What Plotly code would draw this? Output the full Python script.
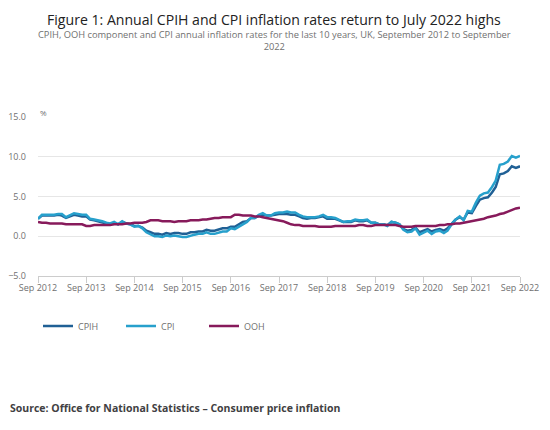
import pandas as pd
import plotly.graph_objects as go

# Monthly, Sep 2012 to Sep 2022
dates = pd.date_range("2012-09-01", "2022-09-01", freq="MS")

cpih = [2.2, 2.6, 2.6, 2.6,
        2.6, 2.7, 2.6, 2.3, 2.5, 2.7, 2.6, 2.5, 2.5, 2.1, 2.0, 1.9,
        1.8, 1.6, 1.5, 1.7, 1.5, 1.8, 1.6, 1.5, 1.3, 1.3, 1.1, 0.7,
        0.5, 0.3, 0.3, 0.2, 0.4, 0.3, 0.4, 0.4, 0.3, 0.3, 0.5, 0.5,
        0.6, 0.6, 0.8, 0.7, 0.7, 0.9, 1.0, 1.0, 1.2, 1.2, 1.5, 1.8,
        1.9, 2.3, 2.3, 2.6, 2.7, 2.6, 2.6, 2.7, 2.8, 2.8, 2.8, 2.7,
        2.7, 2.5, 2.3, 2.2, 2.3, 2.3, 2.4, 2.5, 2.2, 2.2, 2.2, 2.0,
        1.8, 1.8, 1.8, 2.0, 1.9, 1.9, 2.0, 1.7, 1.7, 1.5, 1.5, 1.4,
        1.8, 1.7, 1.5, 0.9, 0.7, 0.8, 1.1, 0.5, 0.7, 0.9, 0.6, 0.8,
        0.9, 0.7, 1.0, 1.6, 2.1, 2.4, 2.1, 3.0, 2.9, 3.8, 4.6, 4.8,
        4.9, 5.5, 6.2, 7.8, 7.9, 8.2, 8.8, 8.6, 8.8]

cpi = [2.2, 2.7, 2.7, 2.7,
       2.7, 2.8, 2.8, 2.4, 2.7, 2.9, 2.8, 2.7, 2.7, 2.2, 2.1, 2.0,
       1.9, 1.7, 1.6, 1.8, 1.5, 1.9, 1.6, 1.5, 1.2, 1.3, 1.0, 0.5,
       0.3, 0.0, 0.0, -0.1, 0.1, 0.0, 0.1, 0.0, -0.1, -0.1, 0.1, 0.2,
       0.3, 0.3, 0.5, 0.3, 0.3, 0.5, 0.6, 0.6, 1.0, 0.9, 1.2, 1.6,
       1.8, 2.3, 2.3, 2.7, 2.9, 2.6, 2.6, 2.9, 3.0, 3.0, 3.1, 3.0,
       3.0, 2.7, 2.5, 2.4, 2.4, 2.4, 2.5, 2.7, 2.4, 2.4, 2.3, 2.1,
       1.8, 1.9, 1.9, 2.1, 2.0, 2.0, 2.1, 1.7, 1.7, 1.5, 1.5, 1.3,
       1.8, 1.7, 1.5, 0.8, 0.5, 0.6, 1.0, 0.2, 0.5, 0.7, 0.3, 0.6,
       0.7, 0.4, 0.7, 1.5, 2.1, 2.5, 2.0, 3.2, 3.1, 4.2, 5.1, 5.4,
       5.5, 6.2, 7.0, 9.0, 9.1, 9.4, 10.1, 9.9, 10.1]

ooh = [1.8, 1.7, 1.7, 1.6,
       1.6, 1.6, 1.6, 1.5, 1.5, 1.5, 1.5, 1.5, 1.3, 1.3, 1.4, 1.4,
       1.4, 1.4, 1.4, 1.5, 1.5, 1.5, 1.6, 1.6, 1.7, 1.7, 1.7, 1.8,
       2.0, 2.0, 2.0, 1.9, 1.9, 1.9, 1.8, 1.9, 1.9, 1.9, 2.0, 2.0,
       2.0, 2.1, 2.1, 2.2, 2.3, 2.3, 2.4, 2.4, 2.4, 2.7, 2.7, 2.6,
       2.6, 2.6, 2.5, 2.5, 2.4, 2.3, 2.2, 2.1, 2.0, 1.9, 1.7, 1.5,
       1.4, 1.4, 1.3, 1.3, 1.3, 1.3, 1.2, 1.2, 1.2, 1.2, 1.3, 1.3,
       1.3, 1.3, 1.3, 1.3, 1.4, 1.4, 1.3, 1.3, 1.4, 1.4, 1.4, 1.4,
       1.4, 1.4, 1.3, 1.2, 1.2, 1.2, 1.3, 1.3, 1.3, 1.3, 1.3, 1.3,
       1.4, 1.4, 1.5, 1.5, 1.6, 1.6, 1.7, 1.8, 1.9, 2.0, 2.1, 2.2,
       2.4, 2.5, 2.6, 2.8, 2.9, 3.1, 3.3, 3.5, 3.6]

series = [("CPIH", cpih, "#206095"), ("CPI", cpi, "#27a0cc"), ("OOH", ooh, "#871a5b")]

FONT = "Open Sans"
GREY = "#707070"

fig = go.Figure()
for name, vals, colour in series:
    fig.add_trace(go.Scatter(
        x=dates, y=vals, mode="lines", name=name,
        line=dict(color=colour, width=2.5),
    ))

# page has an 8px body margin, so the figure is 8px smaller than the window
fig.update_layout(
    width=542, height=422,
    margin=dict(l=30, r=30, t=109, b=154),
    paper_bgcolor="white", plot_bgcolor="white",
    font=dict(family=FONT, size=9, color=GREY),
    showlegend=True,
    legend=dict(orientation="h", x=0.0, y=-0.315, xanchor="left", yanchor="middle",
                font=dict(size=9, color=GREY), entrywidth=38, traceorder="normal"),
)

fig.update_yaxes(
    range=[-5, 15], tickvals=[-5, 0, 5, 10, 15], tickformat=".1f",
    showgrid=True, gridcolor="#e6e6e6", gridwidth=1,
    zeroline=True, zerolinecolor="#e6e6e6", zerolinewidth=1,
    showline=False, ticks="", ticklabelstandoff=11, automargin=False,
    tickfont=dict(size=9, color=GREY),
)
fig.update_xaxes(
    range=[dates[0], dates[-1]], tick0="2012-09-01", dtick="M12", tickformat="%b %Y",
    showgrid=False, showline=True, linecolor="#cccccc", linewidth=1,
    ticks="outside", ticklen=6, tickcolor="#cccccc", automargin=False,
    ticklabelstandoff=-3, tickfont=dict(size=9, color=GREY),
)

fig.add_annotation(text="Figure 1: Annual CPIH and CPI inflation rates return to July 2022 highs",
                   xref="paper", yref="paper", x=0.49, y=1.68, xanchor="center", yanchor="top",
                   borderpad=0, showarrow=False, font=dict(family=FONT, size=14.1, color="#222222"))
fig.add_annotation(text="CPIH, OOH component and CPI annual inflation rates for the last 10 years, UK, September 2012 to September<br>2022",
                   xref="paper", yref="paper", x=0.49, y=1.57, xanchor="center", yanchor="top",
                   showarrow=False, font=dict(family=FONT, size=9.3, color=GREY))
fig.add_annotation(text="%", xref="paper", yref="paper", x=0.0, y=1.03, xanchor="left", yanchor="middle",
                   showarrow=False, font=dict(family=FONT, size=8, color=GREY))
fig.add_annotation(text="<b>Source: Office for National Statistics – Consumer price inflation</b>",
                   xref="paper", yref="paper", x=-0.062, y=-0.83, xanchor="left", yanchor="middle",
                   showarrow=False, font=dict(family=FONT, size=10.5, color="#414042"))

fig.write_html("out.html")
